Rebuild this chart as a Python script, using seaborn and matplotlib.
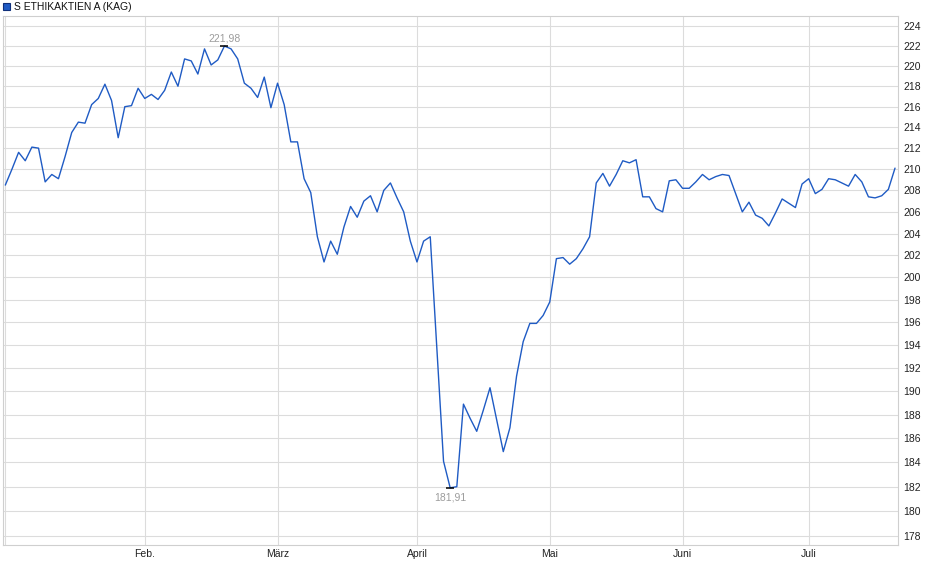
import pandas as pd
import numpy as np
import seaborn as sns
import matplotlib.pyplot as plt
from matplotlib.patches import Rectangle
from matplotlib.ticker import FixedLocator, NullLocator, NullFormatter, FuncFormatter

# trading days (Austrian fund calendar, YTD 2025)
holidays = ['2025-01-01', '2025-01-06', '2025-04-18', '2025-04-21',
            '2025-05-01', '2025-05-29', '2025-06-09', '2025-06-19']
dates = pd.bdate_range('2025-01-02', '2025-07-18', freq='C', holidays=holidays)

# NAV values
jan = [208.5, 210.0, 211.6, 210.8, 212.1, 212.0, 208.8, 209.5, 209.1, 211.2,
       213.5, 214.5, 214.4, 216.2, 216.8, 218.2, 216.6, 213.0, 216.0, 216.1, 217.8]
feb = [216.8, 217.2, 216.7, 217.6, 219.4, 218.0, 220.7, 220.5, 219.2, 221.7,
       220.1, 220.6, 221.98, 221.7, 220.7, 218.3, 217.8, 216.9, 218.9, 215.9]
mar = [218.3, 216.2, 212.6, 212.6, 209.1, 207.8, 203.7, 201.4, 203.3, 202.1,
       204.6, 206.5, 205.5, 207.0, 207.5, 206.0, 208.0, 208.7, 207.3, 206.0, 203.3]
apr = [201.4, 203.3, 203.7, 193.6, 184.1, 181.91, 182.0, 188.9, 187.7, 186.6,
       188.4, 190.3, 187.6, 184.9, 186.9, 191.3, 194.3, 195.9, 195.9, 196.6]
may = [197.8, 201.7, 201.8, 201.2, 201.7, 202.6, 203.7, 208.7, 209.6, 208.4,
       209.5, 210.8, 210.6, 210.9, 207.4, 207.4, 206.3, 206.0, 208.9, 209.0]
jun = [208.2, 208.2, 208.8, 209.5, 209.0, 209.3, 209.5, 209.4, 207.7, 206.0,
       206.9, 205.7, 205.4, 204.7, 205.9, 207.2, 206.8, 206.4, 208.6]
jul = [209.1, 207.7, 208.1, 209.1, 209.0, 208.7, 208.4, 209.5, 208.8, 207.4,
       207.3, 207.5, 208.1, 210.1]

month_names = ['', 'Feb.', 'März', 'April', 'Mai', 'Juni', 'Juli']
y_ticks = list(range(178, 226, 2))
fund_name = 'S ETHIKAKTIEN A (KAG)'

df = pd.DataFrame({'date': dates, 'value': jan + feb + mar + apr + may + jun + jul})
df['pos'] = np.arange(len(df))

sns.set_theme(style='white')
plt.rcParams['font.family'] = ['Liberation Sans', 'DejaVu Sans']

W, H = 940, 579
fig = plt.figure(figsize=(W / 100, H / 100), dpi=100)
ax = fig.add_axes([3 / W, 1 - 545 / H, 895 / W, 529 / H])

sns.lineplot(data=df, x='pos', y='value', ax=ax, color='#1f5bc4', linewidth=1.0)

ax.set_yscale('log')
ax.set_ylim(177.28, 225.01)
ax.set_xlim(-0.35, 134.45)
ax.yaxis.set_major_locator(FixedLocator(y_ticks))
ax.yaxis.set_major_formatter(FuncFormatter(lambda v, p: f'{v:.0f}'))
ax.yaxis.set_minor_locator(NullLocator())
ax.yaxis.set_minor_formatter(NullFormatter())
ax.yaxis.tick_right()

month_pos = df.groupby(df['date'].dt.month)['pos'].min().tolist()
ax.set_xticks(month_pos)
ax.set_xticklabels(month_names)

ax.grid(True, color='#dcdcdc', linewidth=0.8)
ax.tick_params(axis='both', length=0, labelsize=7.5, colors='#222222')
ax.tick_params(axis='y', pad=4)
ax.tick_params(axis='x', pad=3)
for s in ax.spines.values():
    s.set_color('#cfcfcf')
    s.set_linewidth(0.8)
ax.set_xlabel('')
ax.set_ylabel('')

# high / low markers
hi = df.loc[df['value'].idxmax()]
lo = df.loc[df['value'].idxmin()]
ax.plot([hi['pos'], lo['pos']], [hi['value'], lo['value']], linestyle='none',
        marker='_', markersize=6, markeredgewidth=1.1, color='black')
ax.annotate(f"{hi['value']:.2f}".replace('.', ','), (hi['pos'], hi['value']),
            xytext=(0, 3.5), textcoords='offset points', ha='center', va='baseline',
            fontsize=7.5, color='#9c9c9c')
ax.annotate(f"{lo['value']:.2f}".replace('.', ','), (lo['pos'], lo['value']),
            xytext=(0, -3.5), textcoords='offset points', ha='center', va='top',
            fontsize=7.5, color='#9c9c9c')

# legend box
fig.add_artist(Rectangle((3 / W, 1 - 10 / H), 7 / W, 7 / H, transform=fig.transFigure,
                         facecolor='#1f5bc4', edgecolor='#0f2f7a', linewidth=0.8))
fig.text(14 / W, 1 - 6.5 / H, fund_name, fontsize=7.5, va='center', ha='left',
         color='#111111')

fig.savefig('out.png', dpi=100)
